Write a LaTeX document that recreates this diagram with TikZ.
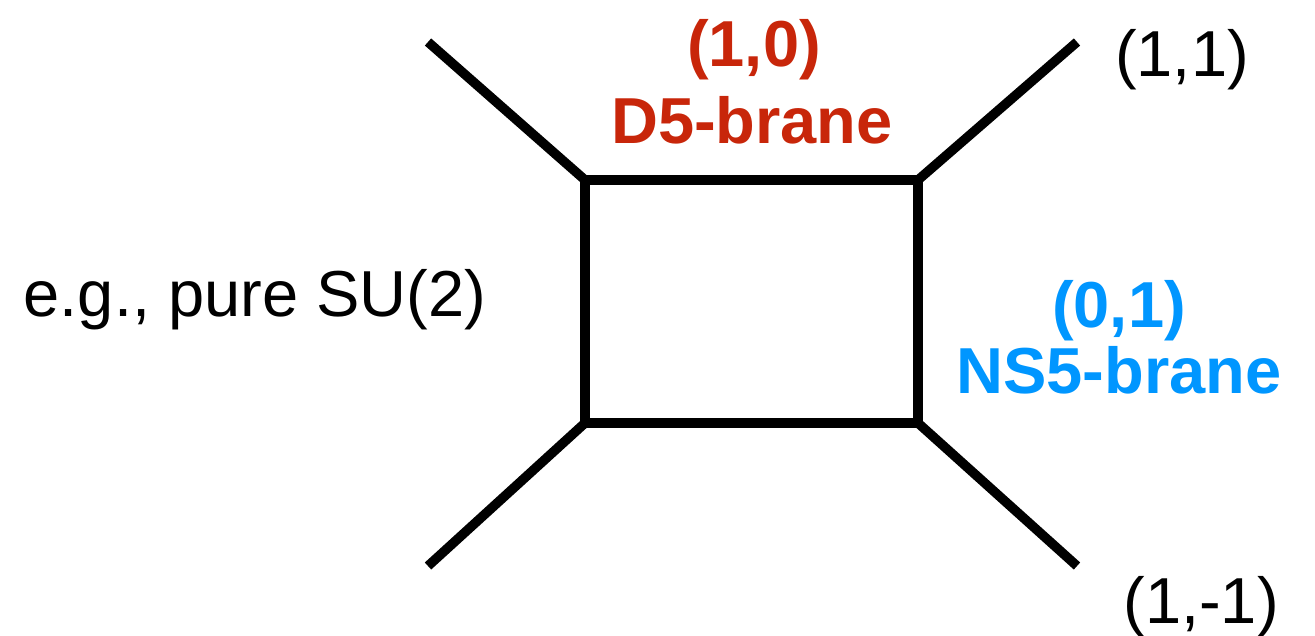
\documentclass[tikz,border=0pt]{standalone}
\usepackage{fontspec}
\setmainfont{Liberation Sans}
\definecolor{dfive}{RGB}{200,38,10}
\definecolor{nsfive}{RGB}{0,150,255}
\begin{document}
\begin{tikzpicture}[x=1pt,y=-1pt,
  brane/.style={line width=9.5pt,black},
  lbl/.style={inner sep=0pt,anchor=base,font=\fontsize{65}{70}\selectfont},
  dlbl/.style={lbl,text=dfive,font=\fontsize{65}{70}\selectfont\bfseries},
  nlbl/.style={lbl,text=nsfive,font=\fontsize{65}{70}\selectfont\bfseries}]
\useasboundingbox (0,0) rectangle (1315,635);
% corners of the central face
\coordinate (tl) at (585,180);
\coordinate (tr) at (918,180);
\coordinate (br) at (918,423);
\coordinate (bl) at (585,423);
% free ends of the external legs
\coordinate (etl) at (428,42);
\coordinate (etr) at (1077,42);
\coordinate (ebl) at (428,566);
\coordinate (ebr) at (1077,566);
\draw[brane,line join=miter] (tl) -- (tr) -- (br) -- (bl) -- cycle;
\draw[brane] (tl) -- (etl);
\draw[brane] (tr) -- (etr);
\draw[brane] (bl) -- (ebl);
\draw[brane] (br) -- (ebr);
% labels
\node[dlbl] (d5q) at (754,66) {(1,0)};
\node[dlbl] (d5) at (752,143) {D5-brane};
\node[nlbl] (ns5q) at (1119,327) {(0,1)};
\node[nlbl] (ns5) at (1119,393) {NS5-brane};
\node[lbl] (q11) at (1182,76) {(1,1)};
\node[lbl] (q1m1) at (1201,623) {(1,-1)};
\node[lbl] (theory) at (255,316) {e.g., pure SU(2)};
\end{tikzpicture}
\end{document}
